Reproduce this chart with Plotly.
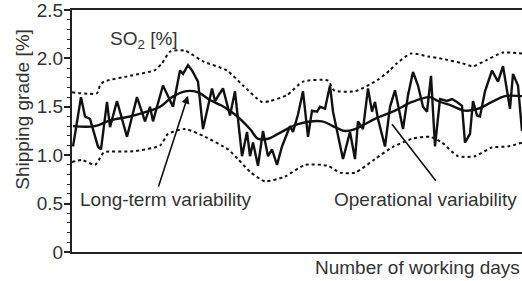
import plotly.graph_objects as go

# Operational (daily) SO2 shipping grade
op_days = [0.25, 2.25, 3.25, 4.5, 6.5, 7.25, 8.75, 9.5, 11.25, 13.75,
           16.25, 18.25, 19.5, 20.25, 21.25, 22.75, 25.25, 27, 27.75, 29,
           30, 31.5, 32.75, 35, 35.75, 37.75, 39.5, 40.75, 42.5, 43.75,
           44.5, 45.25, 46.5, 47.75, 49, 50, 51.25, 52.5, 54.5, 55.25,
           56.5, 57.75, 59, 60, 61.25, 62, 63.25, 64.5, 65.25, 67,
           67.75, 69.5, 70.75, 71.5, 72.75, 74, 75, 75.75, 76.5, 78.25,
           79.5, 80.75, 82, 82.75, 84, 85.25, 86.5, 87.75, 88.75, 89.75,
           90.75, 92, 93.75, 95, 96.25, 97.5, 98.25, 99.5, 100.25, 101.25,
           102, 103.25, 105, 106.5, 107.75, 109.5, 110.25, 111.5, 112.5]
op_vals = [1.09, 1.60, 1.40, 1.375, 1.09, 1.06, 1.55, 1.29, 1.56, 1.19,
           1.60, 1.35, 1.50, 1.35, 1.50, 1.72, 1.50, 1.875, 1.84, 1.93,
           1.875, 1.76, 1.27, 1.69, 1.56, 1.69, 1.41, 1.66, 0.99, 1.24,
           0.99, 1.13, 0.89, 1.25, 0.99, 1.06, 0.90, 1.09, 1.30, 1.24,
           1.42, 1.66, 1.19, 1.46, 1.45, 1.50, 1.48, 1.72, 1.45, 1.13,
           0.96, 1.24, 0.96, 1.35, 1.27, 1.69, 1.45, 1.55, 1.375, 1.09,
           1.50, 1.67, 1.41, 1.27, 1.62, 1.86, 1.72, 1.50, 1.45, 1.82,
           1.09, 1.58, 1.56, 1.58, 1.55, 1.51, 1.13, 1.22, 1.56, 1.41,
           1.40, 1.66, 1.875, 1.76, 1.92, 1.48, 1.84, 1.72, 1.25]

# Long-term (smoothed) trend
lt_days = [0.25, 5.75, 9.5, 14.5, 19.5, 22, 25, 28.25, 31.5, 34.5, 37.5, 40.75,
           44.5, 46.5, 49, 51.5, 56.5, 62.5, 65.75, 68.25, 70.75, 75.75, 80.75,
           85, 89.5, 91.5, 95, 98.25, 101.5, 105, 108.25, 112.5]
lt_vals = [1.30, 1.30, 1.36, 1.40, 1.46, 1.50, 1.60, 1.66, 1.65, 1.57, 1.51, 1.42,
           1.27, 1.17, 1.17, 1.22, 1.32, 1.35, 1.29, 1.25, 1.27, 1.375, 1.46,
           1.55, 1.60, 1.56, 1.51, 1.46, 1.48, 1.55, 1.61, 1.61]

# Upper and lower limits (dotted)
up_days = [0, 6.25, 7, 8, 14.5, 20.75, 22.5, 24.5, 28.25, 32.75, 38.75, 42.75,
           47.5, 49.5, 53.75, 57.75, 64, 65.5, 70.75, 76.5, 79.5, 81.25, 84.75,
           89, 93.25, 97.5, 100.25, 103.5, 107.75, 112.5]
up_vals = [1.65, 1.64, 1.72, 1.76, 1.82, 1.88, 1.95, 2.07, 2.08, 1.97, 1.875, 1.72,
           1.55, 1.56, 1.62, 1.76, 1.77, 1.67, 1.66, 1.78, 1.88, 1.95, 2.05,
           2.02, 1.99, 1.95, 1.92, 1.98, 2.06, 2.05]
lo_days = [0, 2.5, 5.75, 7, 8, 15.25, 22, 24, 28.25, 33.25, 39, 41.5, 44.5,
           48.25, 53.25, 58.25, 64, 67, 70.75, 75.75, 80, 85, 89.5, 92.5, 96.5,
           100.75, 105, 109, 112.5]
lo_vals = [0.93, 0.95, 0.90, 0.97, 1.03, 1.04, 1.10, 1.22, 1.27, 1.19, 1.06, 0.96,
           0.83, 0.73, 0.78, 0.90, 0.89, 0.82, 0.82, 0.96, 1.08, 1.17, 1.19, 1.13,
           0.99, 0.99, 1.08, 1.09, 1.13]

y_tick_vals = [0, 0.5, 1.0, 1.5, 2.0, 2.5]
y_tick_text = ["0", "0.5", "1.0", "1.5", "2.0", "2.5"]

FONT = "Liberation Sans, Arial, sans-serif"
TXT = "#333333"
LINE = "#111111"

fig = go.Figure()
fig.add_trace(go.Scatter(x=up_days, y=up_vals, mode="lines",
                         line=dict(color=LINE, width=2, dash="dot", shape="spline", smoothing=0.6)))
fig.add_trace(go.Scatter(x=lo_days, y=lo_vals, mode="lines",
                         line=dict(color=LINE, width=2, dash="dot", shape="spline", smoothing=0.6)))
fig.add_trace(go.Scatter(x=op_days, y=op_vals, mode="lines",
                         line=dict(color=LINE, width=2.4)))
fig.add_trace(go.Scatter(x=lt_days, y=lt_vals, mode="lines",
                         line=dict(color=LINE, width=2.4, shape="spline", smoothing=1)))

fig.update_layout(
    width=522, height=281,
    margin=dict(l=72, r=0, t=10, b=29),
    paper_bgcolor="white", plot_bgcolor="white",
    showlegend=False,
    font=dict(family=FONT, size=19, color=TXT),
    xaxis=dict(range=[0, 112.5], showgrid=False, zeroline=False,
               showticklabels=False, ticks="",
               showline=True, mirror=True, linecolor="#222222", linewidth=2),
    yaxis=dict(range=[0, 2.5], showgrid=False, zeroline=False,
               tickvals=y_tick_vals, ticktext=y_tick_text,
               ticks="outside", ticklen=6, tickwidth=1.5, tickcolor="#222222",
               ticklabelstandoff=-3, ticklabeloverflow="allow",
               minor=dict(dtick=0.1, ticks="outside", ticklen=3, tickwidth=1, tickcolor="#333333"),
               showline=True, linecolor="#222222", linewidth=2,
               tickfont=dict(family=FONT, size=19, color=TXT)),
)

annos = [
    dict(x=17.9, y=2.19, xref="x", yref="y", text="SO<sub>2</sub> [%]", showarrow=False),
    dict(x=23.5, y=0.54, xref="x", yref="y", text="Long-term variability", showarrow=False),
    dict(x=88.4, y=0.54, xref="x", yref="y", text="Operational variability", showarrow=False),
    dict(x=29, y=1.615, ax=21.5, ay=0.66, xref="x", yref="y", axref="x", ayref="y",
         text="", showarrow=True, arrowhead=2, arrowsize=1, arrowwidth=1.6, arrowcolor=LINE),
    dict(x=80, y=1.32, ax=91.25, ay=0.72, xref="x", yref="y", axref="x", ayref="y",
         text="", showarrow=True, arrowhead=0, arrowwidth=1.6, arrowcolor=LINE),
    dict(x=0, y=1.47, xref="paper", yref="y", xanchor="center", yanchor="middle",
         xshift=-49, text="Shipping grade [%]", textangle=-90, showarrow=False),
    dict(x=1, y=0, xref="paper", yref="paper", xanchor="right", yanchor="middle",
         xshift=0, yshift=-15, text="Number of working days", showarrow=False),
]
for a in annos:
    a.setdefault("font", dict(family=FONT, size=19, color=TXT))
    fig.add_annotation(**a)

fig.write_html("out.html", config={"displayModeBar": False},
               post_script="document.body.style.margin='0';")
